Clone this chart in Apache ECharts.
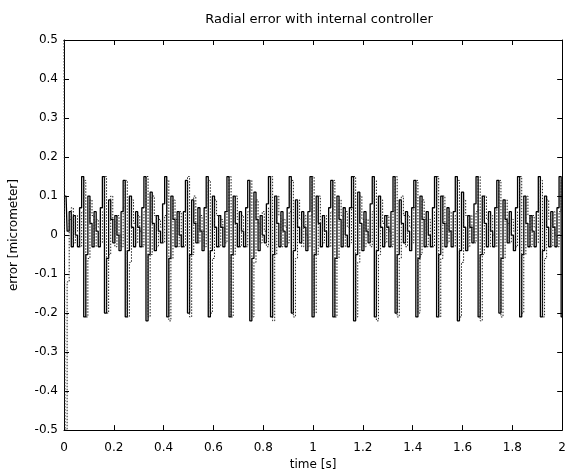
<!DOCTYPE html>
<html>
<head>
<meta charset="utf-8">
<script src="https://cdn.jsdelivr.net/npm/echarts@6/dist/echarts.min.js"></script>
<style>
  html, body { margin: 0; padding: 0; background: #fff; }
  #chart { width: 569px; height: 476px; }
</style>
</head>
<body>
<div id="chart"></div>
<script>
// sampled at 120 Hz, one row = one spindle revolution (~12 Hz)
const sampleStep = 1 / 120

const solidError = [
  0.10, 0.10, 0.01, 0.06, -0.03, 0.05, 0.00, -0.03, 0.07, 0.15,
  -0.21, -0.05, 0.10, 0.03, -0.03, 0.06, 0.01, -0.03, 0.07, 0.15,
  -0.20, -0.06, 0.09, 0.04, -0.02, 0.05, 0.00, -0.04, 0.06, 0.14,
  -0.21, -0.04, 0.10, 0.02, -0.03, 0.06, 0.02, -0.03, 0.07, 0.15,
  -0.22, -0.05, 0.11, 0.03, -0.04, 0.05, 0.01, -0.02, 0.08, 0.15,
  -0.21, -0.06, 0.10, 0.04, -0.03, 0.06, 0.00, -0.03, 0.06, 0.14,
  -0.20, -0.05, 0.09, 0.03, -0.02, 0.07, 0.01, -0.04, 0.07, 0.15,
  -0.21, -0.04, 0.10, 0.02, -0.03, 0.05, 0.02, -0.03, 0.06, 0.15,
  -0.21, -0.05, 0.10, 0.03, -0.03, 0.06, 0.01, -0.03, 0.07, 0.14,
  -0.22, -0.06, 0.11, 0.04, -0.04, 0.05, 0.00, -0.02, 0.08, 0.15,
  -0.21, -0.05, 0.10, 0.03, -0.03, 0.06, 0.01, -0.03, 0.07, 0.15,
  -0.20, -0.04, 0.09, 0.02, -0.02, 0.06, 0.02, -0.04, 0.06, 0.15,
  -0.21, -0.05, 0.10, 0.03, -0.03, 0.05, 0.01, -0.03, 0.07, 0.14,
  -0.21, -0.06, 0.10, 0.04, -0.03, 0.07, 0.00, -0.03, 0.07, 0.15,
  -0.22, -0.05, 0.11, 0.03, -0.04, 0.06, 0.01, -0.02, 0.08, 0.15,
  -0.21, -0.04, 0.10, 0.02, -0.03, 0.05, 0.02, -0.03, 0.06, 0.15,
  -0.20, -0.05, 0.09, 0.03, -0.02, 0.06, 0.01, -0.04, 0.07, 0.14,
  -0.21, -0.06, 0.10, 0.04, -0.03, 0.06, 0.00, -0.03, 0.07, 0.15,
  -0.21, -0.05, 0.10, 0.03, -0.03, 0.07, 0.01, -0.03, 0.06, 0.15,
  -0.22, -0.04, 0.11, 0.02, -0.04, 0.05, 0.02, -0.02, 0.08, 0.15,
  -0.21, -0.05, 0.10, 0.03, -0.03, 0.06, 0.01, -0.03, 0.07, 0.14,
  -0.20, -0.06, 0.09, 0.04, -0.02, 0.06, 0.00, -0.04, 0.07, 0.15,
  -0.21, -0.05, 0.10, 0.03, -0.03, 0.05, 0.01, -0.03, 0.06, 0.15,
  -0.21, -0.04, 0.10, 0.02, -0.03, 0.06, 0.02, -0.03, 0.07, 0.15,
  -0.21
]

const dottedError = [
  0.50, -0.50, -0.12, 0.04, 0.07, -0.02, 0.05, 0.01, -0.03, 0.06,
  0.14, -0.21, -0.06, 0.09, 0.05, -0.03, 0.04, 0.02, -0.02, 0.06,
  0.15, -0.20, -0.05, 0.10, 0.04, -0.03, 0.05, 0.00, -0.03, 0.07,
  0.14, -0.21, -0.07, 0.09, 0.03, -0.02, 0.05, 0.01, -0.03, 0.06,
  0.15, -0.21, -0.05, 0.10, 0.05, -0.03, 0.04, 0.02, -0.02, 0.05,
  0.14, -0.22, -0.06, 0.09, 0.04, -0.03, 0.06, 0.00, -0.03, 0.06,
  0.15, -0.21, -0.05, 0.10, 0.03, -0.02, 0.05, 0.01, -0.03, 0.07,
  0.14, -0.20, -0.06, 0.09, 0.05, -0.03, 0.04, 0.02, -0.02, 0.06,
  0.15, -0.21, -0.05, 0.10, 0.04, -0.03, 0.05, 0.00, -0.03, 0.06,
  0.14, -0.21, -0.07, 0.09, 0.03, -0.02, 0.06, 0.01, -0.03, 0.07,
  0.15, -0.22, -0.05, 0.10, 0.05, -0.03, 0.04, 0.02, -0.02, 0.06,
  0.14, -0.21, -0.06, 0.09, 0.04, -0.03, 0.05, 0.00, -0.03, 0.05,
  0.15, -0.20, -0.05, 0.10, 0.03, -0.02, 0.05, 0.01, -0.03, 0.06,
  0.14, -0.21, -0.06, 0.09, 0.05, -0.03, 0.06, 0.02, -0.02, 0.07,
  0.15, -0.21, -0.07, 0.10, 0.04, -0.03, 0.04, 0.00, -0.03, 0.06,
  0.14, -0.22, -0.05, 0.09, 0.03, -0.02, 0.05, 0.01, -0.03, 0.06,
  0.15, -0.21, -0.06, 0.10, 0.05, -0.03, 0.05, 0.02, -0.02, 0.07,
  0.14, -0.20, -0.05, 0.09, 0.04, -0.03, 0.04, 0.00, -0.03, 0.06,
  0.15, -0.21, -0.06, 0.10, 0.03, -0.02, 0.06, 0.01, -0.03, 0.05,
  0.14, -0.21, -0.07, 0.09, 0.05, -0.03, 0.05, 0.02, -0.02, 0.06,
  0.15, -0.22, -0.05, 0.10, 0.04, -0.03, 0.05, 0.00, -0.03, 0.07,
  0.14, -0.21, -0.06, 0.09, 0.03, -0.02, 0.04, 0.01, -0.03, 0.06,
  0.15, -0.20, -0.05, 0.10, 0.05, -0.03, 0.05, 0.02, -0.02, 0.06,
  0.14, -0.21, -0.06, 0.09, 0.04, -0.03, 0.06, 0.00, -0.03, 0.06,
  0.14
]

const timeRange = [0, 2]
const timeStep = 0.2
const errorRange = [-0.5, 0.5]
const errorStep = 0.1

const toPoints = vals => vals.map((v, i) => [i * sampleStep, v])

const chart = echarts.init(document.getElementById('chart'))

const fontFamily = 'DejaVu Sans'
const axisLine = { show: true, onZero: false, lineStyle: { color: '#000', width: 1 } }
const tick = { show: true, inside: true, length: 5, lineStyle: { color: '#000', width: 1 } }

const xBase = {
  type: 'value',
  min: timeRange[0],
  max: timeRange[1],
  interval: timeStep,
  axisLine: axisLine,
  axisTick: tick,
  splitLine: { show: false }
}
const yBase = {
  type: 'value',
  min: errorRange[0],
  max: errorRange[1],
  interval: errorStep,
  axisLine: axisLine,
  axisTick: tick,
  splitLine: { show: false }
}

const option = {
  animation: false,
  backgroundColor: '#fff',
  title: {
    text: 'Radial error with internal controller',
    left: 314,
    textAlign: 'center',
    top: 8,
    textStyle: { fontFamily, fontSize: 13, fontWeight: 'normal', color: '#000' }
  },
  grid: { left: 62, right: 2, top: 40, bottom: 39, containLabel: false },
  xAxis: [
    {
      ...xBase,
      position: 'bottom',
      name: 'time [s]',
      nameLocation: 'middle',
      nameGap: 27,
      nameTextStyle: { fontFamily, fontSize: 12, color: '#000' },
      axisLabel: { fontFamily, fontSize: 12, color: '#000', margin: 12 }
    },
    { ...xBase, position: 'top', axisLabel: { show: false } }
  ],
  yAxis: [
    {
      ...yBase,
      position: 'left',
      name: 'error [micrometer]',
      nameLocation: 'middle',
      nameGap: 44,
      nameTextStyle: { fontFamily, fontSize: 12, color: '#000' },
      axisLabel: { fontFamily, fontSize: 12, color: '#000', margin: 6 }
    },
    { ...yBase, position: 'right', axisLabel: { show: false } }
  ],
  series: [
    {
      name: 'solid',
      type: 'line',
      step: 'middle',
      data: toPoints(solidError),
      showSymbol: false,
      symbol: 'none',
      lineStyle: { color: '#000', width: 1.3, type: 'solid' },
      xAxisIndex: 0,
      yAxisIndex: 0
    },
    {
      name: 'dotted',
      type: 'line',
      step: 'middle',
      data: toPoints(dottedError),
      showSymbol: false,
      symbol: 'none',
      lineStyle: { color: '#222', width: 1, type: [1.5, 1.5] },
      xAxisIndex: 0,
      yAxisIndex: 0
    }
  ]
}

chart.setOption(option)
</script>
</body>
</html>
